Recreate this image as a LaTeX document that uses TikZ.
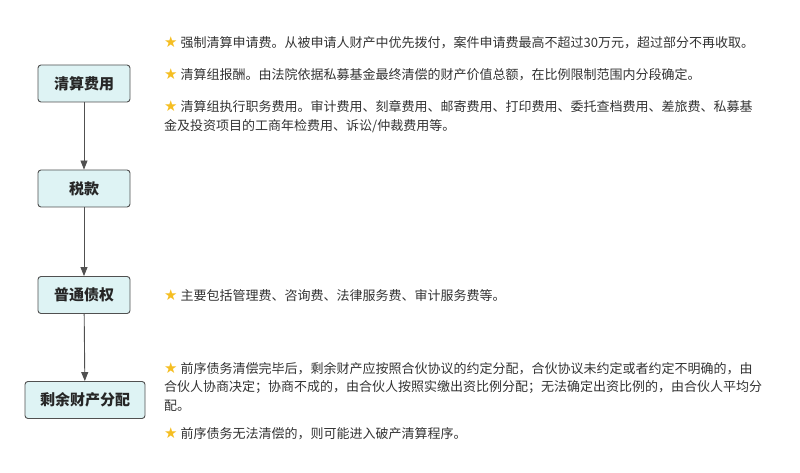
\documentclass[tikz,border=0pt]{standalone}
\usepackage{fontspec}
\setmainfont{Noto Sans CJK SC}
\newfontfamily\symfont{DejaVu Sans}
\usetikzlibrary{arrows.meta}
\definecolor{boxfill}{HTML}{DEF3F4}
\definecolor{boxline}{HTML}{505050}
\definecolor{notetext}{HTML}{333333}
\definecolor{stargold}{HTML}{F5BE22}
\newcommand{\hlstar}{\raisebox{-0.5pt}{\color{stargold}\fontsize{15pt}{15pt}\symfont ★}\hspace{3pt}}
\begin{document}
\begin{tikzpicture}[x=1pt,y=-1pt,
    stagebox/.style={draw=boxline,fill=boxfill,rounded corners=3pt,line width=0.9pt,
      minimum width=92pt,minimum height=37pt,font=\fontsize{15pt}{18pt}\selectfont\bfseries,text=black!85},
    note/.style={anchor=north west,inner sep=0pt,align=left,text=notetext,
      font=\fontsize{13pt}{19pt}\selectfont},
    flowarrow/.style={draw=boxline,line width=0.9pt,-{Triangle[length=9pt,width=7pt]}}]
  \useasboundingbox (0,0) rectangle (800,473);

  % stages
  \node[stagebox] (qsfy) at (84,83.5) {清算费用};
  \node[stagebox] (sk) at (84,188.5) {税款};
  \node[stagebox] (ptzq) at (84,295) {普通债权};
  \node[stagebox,minimum width=120pt] (sycc) at (85,400) {剩余财产分配};
  %
  \draw[flowarrow] (qsfy) -- (sk);
  \draw[flowarrow] (sk) -- (ptzq);
  \draw[flowarrow] (ptzq) -- (sycc);

  % notes
  \node[note] (n1) at (164,36) {\hlstar 强制清算申请费。从被申请人财产中优先拨付，案件申请费最高不超过30万元，超过部分不再收取。};
  \node[note] (n2) at (164,68) {\hlstar 清算组报酬。由法院依据私募基金最终清偿的财产价值总额，在比例限制范围内分段确定。};
  \node[note] (n3) at (164,100) {\hlstar 清算组执行职务费用。审计费用、刻章费用、邮寄费用、打印费用、委托查档费用、差旅费、私募基\\金及投资项目的工商年检费用、诉讼/仲裁费用等。};
  %
  \node[note] (n4) at (164,289) {\hlstar 主要包括管理费、咨询费、法律服务费、审计服务费等。};
  %
  \node[note,font=\fontsize{13pt}{18.6pt}\selectfont] (n5) at (164,362) {\hlstar 前序债务清偿完毕后，剩余财产应按照合伙协议的约定分配，合伙协议未约定或者约定不明确的，由\\合伙人协商决定；协商不成的，由合伙人按照实缴出资比例分配；无法确定出资比例的，由合伙人平均分\\配。};
  \node[note] (n6) at (164,427) {\hlstar 前序债务无法清偿的，则可能进入破产清算程序。};
\end{tikzpicture}
\end{document}
